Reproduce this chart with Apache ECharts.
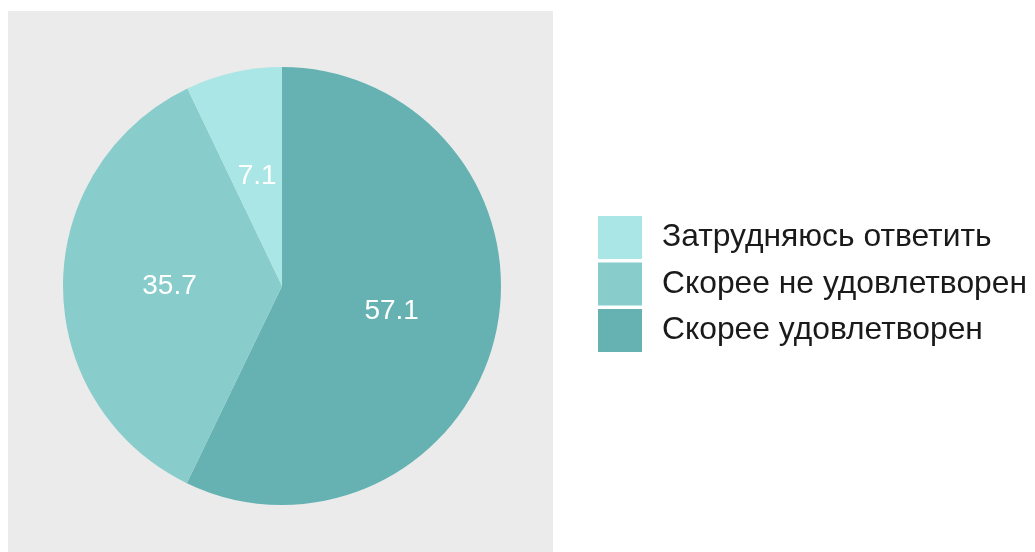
<!DOCTYPE html>
<html>
<head>
<meta charset="utf-8">
<script src="https://cdn.jsdelivr.net/npm/echarts@6/dist/echarts.min.js"></script>
<style>
  html, body { margin: 0; padding: 0; background: #fff; }
  #chart { width: 1035px; height: 552px; }
</style>
</head>
<body>
<div id="chart"></div>
<script>
// data (percent)
const categories = ['Скорее удовлетворен', 'Скорее не удовлетворен', 'Затрудняюсь ответить'];
const values = [57.1, 35.7, 7.1];
const colors = ['#66b2b2', '#88cccc', '#aae6e6'];
const legendOrder = ['Затрудняюсь ответить', 'Скорее не удовлетворен', 'Скорее удовлетворен'];

let chart = echarts.init(document.getElementById('chart'));

chart.setOption({
  animation: false,
  textStyle: { fontFamily: 'Liberation Sans, Arial, sans-serif' },
  graphic: [
    {
      type: 'rect',
      z: -10,
      shape: { x: 8, y: 11, width: 545, height: 545 },
      style: { fill: '#ebebeb' }
    }
  ],
  legend: {
    orient: 'vertical',
    left: 598,
    top: 216,
    padding: 0,
    itemWidth: 44,
    itemHeight: 43,
    itemGap: 3.5,
    icon: 'rect',
    data: legendOrder,
    textStyle: {
      fontSize: 31.8,
      color: '#1a1a1a',
      padding: [0, 0, 0, 15]
    }
  },
  series: [
    {
      type: 'pie',
      center: [282, 286],
      radius: [0, 219],
      startAngle: 90,
      clockwise: true,
      silent: true,
      label: {
        show: true,
        position: 'inside',
        color: '#ffffff',
        fontSize: 28,
        formatter: '{c}'
      },
      labelLine: { show: false },
      itemStyle: { borderWidth: 0 },
      data: categories.map((name, i) => ({
        name: name,
        value: values[i],
        itemStyle: { color: colors[i] }
      }))
    }
  ]
});
</script>
</body>
</html>
